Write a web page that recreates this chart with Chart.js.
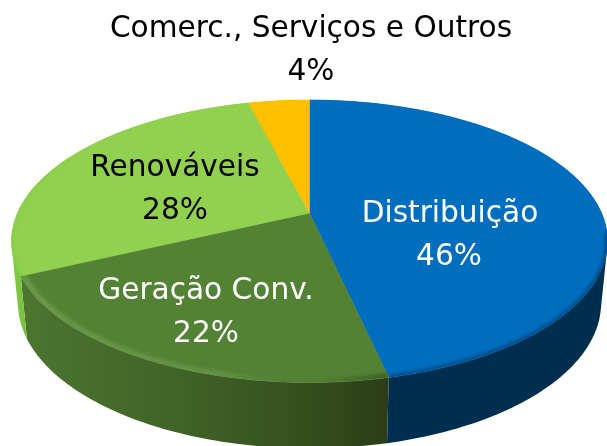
<!DOCTYPE html>
<html>
<head>
<meta charset="utf-8">
<style>html,body{margin:0;padding:0;background:#fff;overflow:hidden}canvas{display:block}</style>
<script src="https://cdn.jsdelivr.net/npm/chart.js@4"></script>
</head>
<body>
<canvas id="c" width="607" height="446"></canvas>
<script>
// ---- data ----
const categories = ["Distribuição", "Geração Conv.", "Renováveis", "Comerc., Serviços e Outros"];
const percentages = [46, 22, 28, 4];
// ---- styles ----
const faceColors = ["#006EBF", "#548235", "#92D050", "#FFC000"];
const wallStops = [
  [[0, "#002E50"], [1, "#002E50"]],
  [[0, "#4C7530"], [0.45, "#3F6226"], [0.75, "#35501F"], [1, "#2B3D17"]],
  [[0, "#82CC45"], [1, "#78BE3E"]],
  [[0, "#B38700"], [1, "#B38700"]]
];
const rimColors = ["rgba(0,30,60,0.75)", null, "rgba(130,205,70,0.9)", null];
const rimFromFront = [0.12, -0.1, -0.45, 0];
const labelColors = ["#FFFFFF", "#FFFFFF", "#000000", "#000000"];
const labelAnchors = [[450, 222, 449, 265], [206, 299, 206, 342], [175, 176, 175, 219], [311, 37, 311, 80]];
const labelFont = "29.6px 'DejaVu Sans'";

// ---- view of the disc (perspective) ----
const VIEW = {
  cx: 309.5, apexY: 213, k: 0.2,
  top: { b: 292, a: 135.6, y0: 213 },
  bottom: { b: 285.7, a: 139.5, y0: 274 }
};
const TAU = Math.PI * 2;
function viewAngle(a) {            // a: chart angle (0 = top after rotation)
  let t = a + Math.PI / 2;
  const lim = 244.8 / 360 * TAU;
  if (t > 0 && t < lim) t += 0.0366 * Math.sin(t * Math.PI / lim);
  return t;
}
function project(ring, t, r) {
  const u = r * Math.sin(t), v = -r * Math.cos(t);
  const w = 1 - VIEW.k * v;
  return [VIEW.cx + ring.b * u / w, ring.y0 + ring.a * v / w];
}
function samples(a0, a1) {
  const n = Math.max(2, Math.ceil((a1 - a0) / 0.02));
  const out = [];
  for (let i = 0; i <= n; i++) out.push(viewAngle(a0 + (a1 - a0) * i / n));
  return out;
}

class Arc3D extends Chart.ArcElement {
  static id = "arc3d";
  facePath(ctx) {
    const ts = samples(this.startAngle, this.endAngle);
    ctx.beginPath();
    ctx.moveTo(VIEW.cx, VIEW.apexY);
    ts.forEach(t => { const p = project(VIEW.top, t, 1); ctx.lineTo(p[0], p[1]); });
    ctx.closePath();
  }
  drawWall(ctx, index) {
    const ts = samples(this.startAngle, this.endAngle);
    ctx.beginPath();
    for (let i = 0; i < ts.length - 1; i++) {
      const a = project(VIEW.top, ts[i], 1), b = project(VIEW.top, ts[i + 1], 1);
      const c = project(VIEW.bottom, ts[i + 1], 1), d = project(VIEW.bottom, ts[i], 1);
      const clockwise = (b[0] - a[0]) * (d[1] - a[1]) - (b[1] - a[1]) * (d[0] - a[0]) > 0;
      ctx.moveTo(a[0], a[1]);
      if (clockwise) { ctx.lineTo(b[0], b[1]); ctx.lineTo(c[0], c[1]); ctx.lineTo(d[0], d[1]); }
      else { ctx.lineTo(d[0], d[1]); ctx.lineTo(c[0], c[1]); ctx.lineTo(b[0], b[1]); }
      ctx.closePath();
    }
    const first = index === 1 ? 25 : (index === 2 ? 10 : 390);
    const last = index === 1 ? 390 : (index === 2 ? 28 : 600);
    const g = ctx.createLinearGradient(first, 0, last, 0);
    wallStops[index].forEach(s => g.addColorStop(s[0], s[1]));
    ctx.fillStyle = g;
    ctx.fill();
  }
  draw(ctx) {
    const index = this.$context.index;
    ctx.save();
    this.facePath(ctx);
    ctx.fillStyle = this.options.backgroundColor;
    ctx.fill();
    ctx.strokeStyle = this.options.backgroundColor;
    ctx.lineWidth = 0.6;
    ctx.stroke();
    // bevel along the front rim
    ctx.save();
    this.facePath(ctx);
    ctx.clip();
    ctx.filter = "blur(2px)";
    const ts = samples(this.startAngle, this.endAngle).filter(t => -Math.cos(t) > rimFromFront[index]);
    const tracePath = r => {
      ctx.beginPath();
      ts.forEach((t, i) => {
        const p = project(VIEW.top, t, r);
        if (i) ctx.lineTo(p[0], p[1]); else ctx.moveTo(p[0], p[1]);
      });
    };
    if (index === 1) {
      const g = ctx.createLinearGradient(25, 0, 390, 0);
      g.addColorStop(0, "rgba(125,170,90,0.85)");
      g.addColorStop(0.55, "rgba(125,170,90,0.55)");
      g.addColorStop(0.75, "rgba(80,110,50,0)");
      g.addColorStop(1, "rgba(35,55,20,0.8)");
      tracePath(0.992);
      ctx.strokeStyle = g; ctx.lineWidth = 4; ctx.stroke();
    } else if (rimColors[index]) {
      tracePath(1);
      ctx.strokeStyle = rimColors[index]; ctx.lineWidth = 3; ctx.stroke();
    }
    ctx.restore();
    ctx.restore();
  }
}
class Pie3D extends Chart.PieController {
  static id = "pie3d";
  static defaults = { dataElementType: "arc3d" };
  draw() {
    const ctx = this.chart.ctx;
    this._cachedMeta.data.forEach((el, i) => el.drawWall(ctx, i));
    super.draw();
  }
}
Chart.register(Arc3D, Pie3D);

const labelPlugin = {
  id: "sliceLabels",
  afterDraw(chart) {
    const ctx = chart.ctx;
    ctx.save();
    ctx.font = labelFont;
    ctx.textAlign = "center";
    ctx.textBaseline = "alphabetic";
    categories.forEach((name, i) => {
      const a = labelAnchors[i];
      ctx.fillStyle = labelColors[i];
      ctx.fillText(name, a[0], a[1]);
      ctx.fillText(percentages[i] + "%", a[2], a[3]);
    });
    ctx.restore();
  }
};

new Chart(document.getElementById("c"), {
  type: "pie3d",
  data: { labels: categories, datasets: [{ data: percentages, backgroundColor: faceColors, borderWidth: 0 }] },
  options: {
    responsive: false,
    animation: false,
    events: [],
    layout: { padding: 0 },
    plugins: { legend: { display: false }, tooltip: { enabled: false } }
  },
  plugins: [labelPlugin]
});
</script>
</body>
</html>
